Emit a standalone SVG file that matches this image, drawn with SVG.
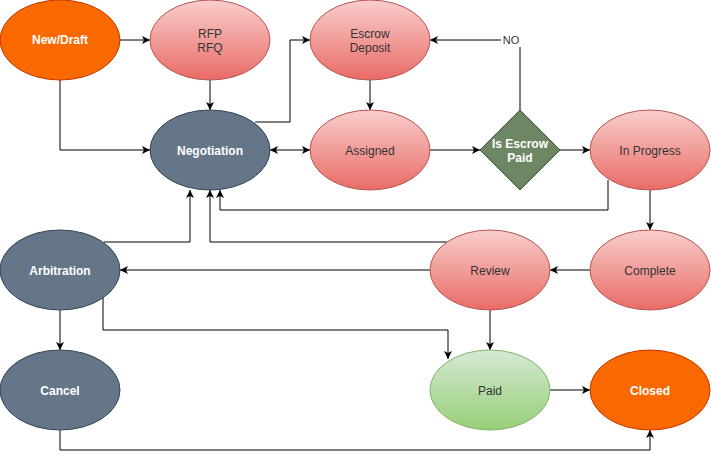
<svg xmlns="http://www.w3.org/2000/svg" width="711" height="459" viewBox="0 0 711 459">
<style>
.lbl{font-family:"Liberation Sans",Arial,sans-serif;font-size:12px;text-anchor:middle}
.w{fill:#ffffff;font-weight:bold}
.d{fill:#333333}
.orange{fill:#fa6800;stroke:#c73500}
.red{fill:url(#gRed);stroke:#b85450}
.slate{fill:#647687;stroke:#314354}
.green{fill:url(#gGreen);stroke:#82b366}
.dia{fill:#6d8764;stroke:#3a5431}
.e{fill:none;stroke:#000000;stroke-width:1;marker-end:url(#arr)}
</style>
<defs>
<linearGradient id="gRed" x1="0" y1="0" x2="0" y2="1"><stop offset="0" stop-color="#f8cecc"/><stop offset="1" stop-color="#ea6b66"/></linearGradient>
<linearGradient id="gGreen" x1="0" y1="0" x2="0" y2="1"><stop offset="0" stop-color="#d5e8d4"/><stop offset="1" stop-color="#97d077"/></linearGradient>
<marker id="arr" markerUnits="userSpaceOnUse" markerWidth="9" markerHeight="9" refX="8" refY="4" orient="auto-start-reverse"><path d="M0,0 L8,4 L0,8 L2,4 Z" fill="#000"/></marker>
</defs>
<rect width="711" height="459" fill="#ffffff"/>
<g id="connectors">
<path class="e" d="M120,40 H150"/>
<path class="e" d="M210,80 V110"/>
<path class="e" d="M60,80 V150 H150"/>
<path class="e" d="M255,122 H290 V40 H310"/>
<path class="e" d="M270,150 H310" style="marker-start:url(#arr)"/>
<path class="e" d="M370,80 V110"/>
<path class="e" d="M430,150 H480"/>
<path class="e" d="M560,150 H590"/>
<path class="e" d="M520,110 V40 H430"/>
<path class="e" d="M608,180 V210 H220 V190"/>
<path class="e" d="M650,190 V230"/>
<path class="e" d="M590,270 H550"/>
<path class="e" d="M447,242 H210 V190"/>
<path class="e" d="M104,242 H190 V190"/>
<path class="e" d="M430,270 H120"/>
<path class="e" d="M103,298 V330 H448 V359"/>
<path class="e" d="M60,310 V350"/>
<path class="e" d="M490,310 V350"/>
<path class="e" d="M550,390 H590"/>
<path class="e" d="M60,430 V450 H650 V430"/>
<rect x="501" y="33" width="20" height="14" fill="#ffffff"/>
<text class="lbl" x="511" y="44" style="font-size:11px" fill="#333333">NO</text>
</g>
<g id="new-draft"><ellipse class="orange" cx="60" cy="40" rx="60" ry="40"/><text class="lbl w" x="60" y="44">New/Draft</text></g>
<g id="rfp"><ellipse class="red" cx="210" cy="40" rx="60" ry="40"/><text class="lbl d" x="210" y="38">RFP</text><text class="lbl d" x="210" y="52">RFQ</text></g>
<g id="escrow"><ellipse class="red" cx="370" cy="40" rx="60" ry="40"/><text class="lbl d" x="370" y="38">Escrow</text><text class="lbl d" x="370" y="52">Deposit</text></g>
<g id="negotiation"><ellipse class="slate" cx="210" cy="150" rx="60" ry="40"/><text class="lbl w" x="210" y="155">Negotiation</text></g>
<g id="assigned"><ellipse class="red" cx="370" cy="150" rx="60" ry="40"/><text class="lbl d" x="370" y="155">Assigned</text></g>
<g id="is-escrow-paid"><path class="dia" d="M520,110 L560,150 L520,190 L480,150 Z"/><text class="lbl w" x="520" y="148">Is Escrow</text><text class="lbl w" x="520" y="162">Paid</text></g>
<g id="in-progress"><ellipse class="red" cx="650" cy="150" rx="60" ry="40"/><text class="lbl d" x="650" y="155">In Progress</text></g>
<g id="complete"><ellipse class="red" cx="650" cy="270" rx="60" ry="40"/><text class="lbl d" x="650" y="275">Complete</text></g>
<g id="review"><ellipse class="red" cx="490" cy="270" rx="60" ry="40"/><text class="lbl d" x="490" y="275">Review</text></g>
<g id="arbitration"><ellipse class="slate" cx="60" cy="270" rx="60" ry="40"/><text class="lbl w" x="60" y="275">Arbitration</text></g>
<g id="cancel"><ellipse class="slate" cx="60" cy="390" rx="60" ry="40"/><text class="lbl w" x="60" y="395">Cancel</text></g>
<g id="paid"><ellipse class="green" cx="490" cy="390" rx="60" ry="40"/><text class="lbl d" x="490" y="395">Paid</text></g>
<g id="closed"><ellipse class="orange" cx="650" cy="390" rx="60" ry="40"/><text class="lbl w" x="650" y="395">Closed</text></g>
</svg>
